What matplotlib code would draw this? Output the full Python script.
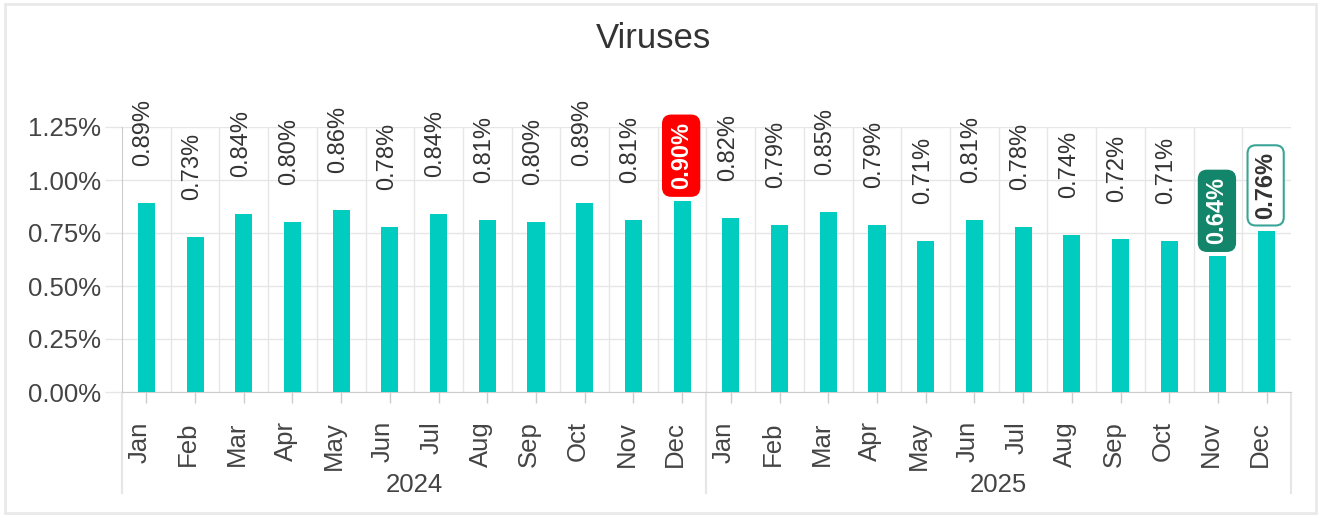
import matplotlib
matplotlib.use("Agg")
import matplotlib.pyplot as plt
from matplotlib.patches import Rectangle
from matplotlib.transforms import blended_transform_factory

plt.rcParams['font.family'] = ['Liberation Sans', 'DejaVu Sans']

# Monthly share of virus detections (%)
months = ["Jan", "Feb", "Mar", "Apr", "May", "Jun",
          "Jul", "Aug", "Sep", "Oct", "Nov", "Dec"]
years = ["2024", "2025"]
values_2024 = [0.89, 0.73, 0.84, 0.80, 0.86, 0.78, 0.84, 0.81, 0.80, 0.89, 0.81, 0.90]
values_2025 = [0.82, 0.79, 0.85, 0.79, 0.71, 0.81, 0.78, 0.74, 0.72, 0.71, 0.64, 0.76]
y_ticks = [0.00, 0.25, 0.50, 0.75, 1.00, 1.25]

# Highlighted points: overall max, overall min, latest value
highlight = {
    ("2024", "Dec"): dict(face="#ff0000", edge="#ff0000", text="white"),
    ("2025", "Nov"): dict(face="#13856a", edge="#13856a", text="white"),
    ("2025", "Dec"): dict(face="white", edge="#3aa596", text="#333333"),
}

labels = [m for _ in years for m in months]
keys = [(y, m) for y in years for m in months]
values = values_2024 + values_2025
xs = list(range(len(values)))

W, H, DPI = 1322, 517, 100
fig = plt.figure(figsize=(W / DPI, H / DPI), dpi=DPI)
ax = fig.add_axes([122 / W, 1 - 392 / H, (1291 - 122) / W, (392 - 127) / H])

bar_color = "#00ccc0"
grid_color = "#e6e6e6"
axis_color = "#cccccc"
text_color = "#444444"

ax.bar(xs, values, width=0.35, color=bar_color, zorder=3)

ax.set_xlim(-0.5, len(values) - 0.5)
ax.set_ylim(0, 1.25)
ax.set_yticks(y_ticks)
ax.set_yticklabels([f"{v:.2f}%" for v in y_ticks], fontsize=18.5, color=text_color)

# Tick marks at bar centres; month names on minor ticks set slightly to the left
ax.set_xticks(xs)
ax.set_xticklabels([])
ax.set_xticks([x - 0.14 for x in xs], minor=True)
ax.set_xticklabels(labels, minor=True, rotation=90, fontsize=18.5,
                   color=text_color, va="top")

ax.tick_params(axis="y", length=12, width=1, color=grid_color, pad=3)
ax.tick_params(axis="x", which="major", length=8, width=1, color=axis_color)
ax.tick_params(axis="x", which="minor", length=0, pad=21)

for s in ["top", "right"]:
    ax.spines[s].set_visible(False)
ax.spines["left"].set_color(axis_color)
ax.spines["bottom"].set_color(axis_color)

ax.grid(axis="y", color=grid_color, lw=1, zorder=0)
for b in range(1, len(values)):
    ax.axvline(b - 0.5, color=grid_color, lw=1, zorder=0)

# Value labels above bars
for x, v, k in zip(xs, values, keys):
    txt = f"{v:.2f}%"
    if k in highlight:
        h = highlight[k]
        ax.annotate(txt, (x, v), xytext=(-1, 12), textcoords="offset pixels",
                    rotation=90, ha="center", va="bottom", fontsize=17,
                    fontweight="bold", color=h["text"], zorder=5,
                    annotation_clip=False,
                    bbox=dict(boxstyle="round,pad=0.28,rounding_size=0.35",
                              fc=h["face"], ec=h["edge"], lw=1.5))
    else:
        ax.annotate(txt, (x, v), xytext=(-3, 37), textcoords="offset pixels",
                    rotation=90, ha="center", va="bottom", fontsize=17,
                    color="#333333", zorder=5, annotation_clip=False)

# Year grouping below month labels
btrans = blended_transform_factory(ax.transData, fig.transFigure)
n = len(months)
for i in range(len(years) + 1):
    xb = i * n - 0.5
    ax.plot([xb, xb], [1 - 393 / H, 1 - 493 / H], color=grid_color, lw=1.5,
            transform=btrans, clip_on=False)
for i, y in enumerate(years):
    ax.text(i * n + (n - 1) / 2, 1 - 485 / H, y, transform=btrans,
            ha="center", va="center", fontsize=18.5, color=text_color)

fig.text(653 / W, 1 - 38 / H, "Viruses", ha="center", va="center",
         fontsize=25, color="#333333")

# Light frame around the figure
fig.patches.append(Rectangle((5 / W, 4 / H), (1316 - 5) / W, (513 - 4) / H,
                             transform=fig.transFigure, fill=False,
                             ec="#e9e9e9", lw=2))

fig.savefig("out.png", dpi=DPI)
